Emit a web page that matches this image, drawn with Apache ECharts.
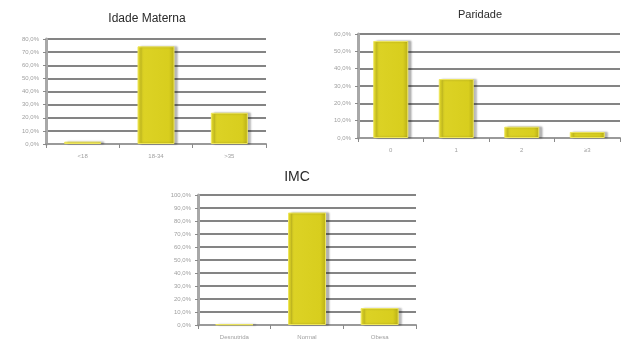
<!DOCTYPE html>
<html>
<head>
<meta charset="utf-8">
<script src="https://cdn.jsdelivr.net/npm/echarts@6/dist/echarts.min.js"></script>
<style>
  html, body { margin: 0; padding: 0; background: #fff; }
  #chart { width: 627px; height: 340px; }
</style>
</head>
<body>
<div id="chart"></div>
<script>
// Idade materna
const idadeCats = ['<18', '18-34', '>35'];
const idadeVals = [1.8, 74.4, 23.8];
const idadeTicks = [0, 80, 10];

// Paridade
const paridadeCats = ['0', '1', '2', '≥3'];
const paridadeVals = [56.0, 34.0, 6.5, 3.5];
const paridadeTicks = [0, 60, 10];

// IMC
const imcCats = ['Desnutrida', 'Normal', 'Obesa'];
const imcVals = [0.5, 86.5, 13.0];
const imcTicks = [0, 100, 10];

const FONT = '"Liberation Sans", Arial, sans-serif';
const pct = v => v.toFixed(1).replace('.', ',') + '%';

// yellow column with a pale top edge and a soft grey drop shadow
const barStyle = {
  color: {
    type: 'linear', x: 0, y: 0, x2: 1, y2: 0,
    colorStops: [
      { offset: 0, color: '#ddd326' },
      { offset: 0.85, color: '#d8ce1e' },
      { offset: 1, color: '#b8ae18' }
    ]
  },
  borderColor: '#eee65c',
  borderWidth: 1,
  shadowColor: 'rgba(0,0,0,0.28)',
  shadowBlur: 2,
  shadowOffsetX: 3,
  shadowOffsetY: 0
};

const grids = [
  { left: 46, top: 39, width: 220, height: 105 },
  { left: 358, top: 34, width: 262, height: 104 },
  { left: 198, top: 195, width: 218, height: 131 }
];

function xAxisFor(idx, cats) {
  return {
    type: 'category', gridIndex: idx, data: cats,
    axisLine: { lineStyle: { color: '#9a9a9a', width: 2 } },
    axisTick: { show: true, length: 4, lineStyle: { color: '#8a8a8a', width: 1 } },
    axisLabel: { color: '#a0a0a0', fontSize: 6, fontFamily: FONT, margin: 9 }
  };
}
function yAxisFor(idx, ticks) {
  return {
    type: 'value', gridIndex: idx, min: ticks[0], max: ticks[1], interval: ticks[2],
    axisLine: { show: true, lineStyle: { color: '#a8a8a8', width: 3 } },
    axisTick: { show: true, length: 3, lineStyle: { color: '#8a8a8a' } },
    axisLabel: { color: '#a0a0a0', fontSize: 6, fontFamily: FONT, margin: 7, formatter: pct },
    splitLine: { lineStyle: { color: '#848484', width: 2 } }
  };
}
function barSeries(idx, vals, width) {
  return {
    type: 'bar', xAxisIndex: idx, yAxisIndex: idx, data: vals,
    barWidth: width, itemStyle: barStyle, silent: true
  };
}

const chart = echarts.init(document.getElementById('chart'), null, { renderer: 'canvas' });
chart.setOption({
  animation: false,
  backgroundColor: '#ffffff',
  title: [
    { text: 'Idade Materna', left: 142, top: 8, textAlign: 'center',
      textStyle: { fontFamily: FONT, fontSize: 12, fontWeight: 'normal', color: '#2a2a2a' } },
    { text: 'Paridade', left: 475, top: 4, textAlign: 'center',
      textStyle: { fontFamily: FONT, fontSize: 11, fontWeight: 'normal', color: '#2a2a2a' } },
    { text: 'IMC', left: 292, top: 165, textAlign: 'center',
      textStyle: { fontFamily: FONT, fontSize: 14, fontWeight: 'normal', color: '#2a2a2a' } }
  ],
  grid: grids,
  xAxis: [xAxisFor(0, idadeCats), xAxisFor(1, paridadeCats), xAxisFor(2, imcCats)],
  yAxis: [yAxisFor(0, idadeTicks), yAxisFor(1, paridadeTicks), yAxisFor(2, imcTicks)],
  series: [
    barSeries(0, idadeVals, 37),
    barSeries(1, paridadeVals, 35),
    barSeries(2, imcVals, 38)
  ]
});
</script>
</body>
</html>
